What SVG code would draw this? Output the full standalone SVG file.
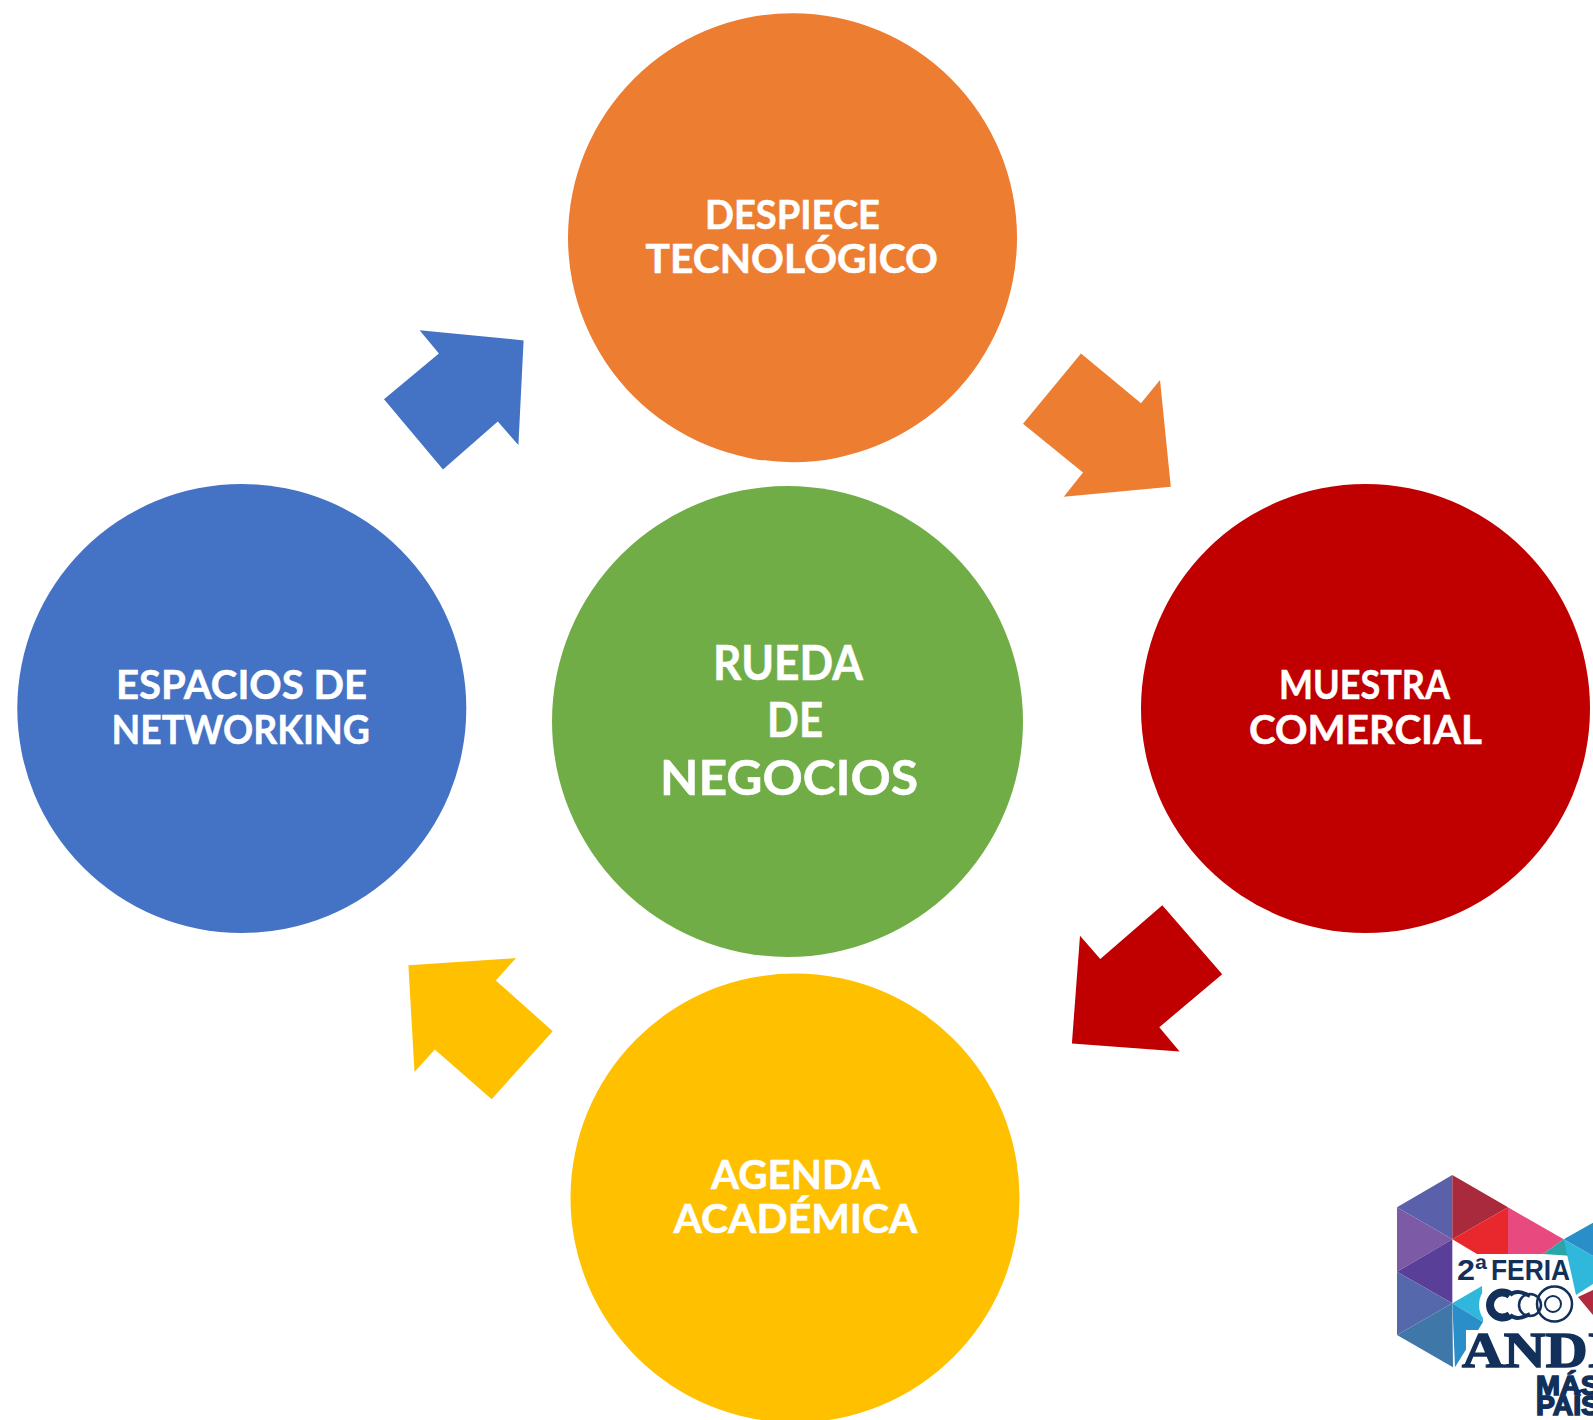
<svg xmlns="http://www.w3.org/2000/svg" width="1593" height="1420" viewBox="0 0 1593 1420">
<style>
.t{font-family:"Lato","Liberation Sans",Arial,sans-serif;font-weight:700;fill:#fff;stroke:#fff;stroke-width:.5px;font-size:40px}
.c{font-size:48px}
.lg{font-family:"Liberation Sans",Arial,sans-serif;font-weight:700;fill:#12305a;stroke:#12305a;stroke-width:.8px}
.h{paint-order:stroke;stroke:#fff;stroke-width:5px;stroke-linejoin:round}
</style>
<rect width="1593" height="1420" fill="#fff"/>
<g id="connectors">
<polygon fill="#ed7d31" points="1081,353.6 1141,403.3 1160,380 1170.8,486.7 1063.8,496.8 1083,472.4 1023,423.7"/>
<polygon fill="#c00000" points="1162.3,905.3 1222.2,974.3 1159.3,1027.2 1179.6,1051.6 1071.9,1043.4 1080,935.7 1100.3,959.1"/>
<polygon fill="#ffc000" points="516.1,958.1 495.8,980.4 552.7,1031.2 491.7,1099.3 434.8,1049.5 414.5,1071.9 408.4,965.2"/>
<polygon fill="#4472c4" points="419.6,330.2 523.6,340.4 518.4,445 497.8,421.6 443,469.4 384,399.3 438.9,353.6"/>
</g>
<g id="node-despiece">
<circle cx="792.5" cy="237.7" r="224.5" fill="#ed7d31"/>
<text class="t" x="705" y="229" textLength="175" lengthAdjust="spacingAndGlyphs">DESPIECE</text>
<text class="t" x="645.5" y="272.5" textLength="292.5" lengthAdjust="spacingAndGlyphs">TECNOLÓGICO</text>
</g>
<g id="node-rueda">
<circle cx="787.5" cy="721.5" r="235.5" fill="#70ad47"/>
<text class="t c" x="713" y="680" textLength="150" lengthAdjust="spacingAndGlyphs">RUEDA</text>
<text class="t c" x="767" y="737" textLength="56" lengthAdjust="spacingAndGlyphs">DE</text>
<text class="t c" x="660" y="795" textLength="258" lengthAdjust="spacingAndGlyphs">NEGOCIOS</text>
</g>
<g id="node-muestra">
<circle cx="1365.5" cy="708.5" r="224.5" fill="#c00000"/>
<text class="t" x="1279" y="698.5" textLength="171" lengthAdjust="spacingAndGlyphs">MUESTRA</text>
<text class="t" x="1249" y="744" textLength="233" lengthAdjust="spacingAndGlyphs">COMERCIAL</text>
</g>
<g id="node-agenda">
<circle cx="795" cy="1198" r="224.5" fill="#ffc000"/>
<text class="t" x="711" y="1189" textLength="169" lengthAdjust="spacingAndGlyphs">AGENDA</text>
<text class="t" x="673.5" y="1233" textLength="244" lengthAdjust="spacingAndGlyphs">ACADÉMICA</text>
</g>
<g id="node-espacios">
<circle cx="241.8" cy="708.5" r="224.5" fill="#4472c4"/>
<text class="t" x="116" y="698.5" textLength="251" lengthAdjust="spacingAndGlyphs">ESPACIOS DE</text>
<text class="t" x="111.5" y="744" textLength="258.5" lengthAdjust="spacingAndGlyphs">NETWORKING</text>
</g>
<g id="logo">
<polygon fill="#5a60aa" points="1452.3,1175 1397,1207.3 1452.3,1239.3"/>
<polygon fill="#7d5aa6" points="1397,1207.3 1452.3,1239.3 1397,1271.7"/>
<polygon fill="#5a3f98" points="1452.3,1239.3 1397,1271.7 1452.3,1303.3"/>
<polygon fill="#5568ac" points="1397,1271.7 1452.3,1303.3 1397,1335"/>
<polygon fill="#3f78a8" points="1452.3,1303.3 1397,1335 1453,1367.3"/>
<polygon fill="#a82a3c" points="1452.3,1175 1508,1207.3 1452.3,1239.3"/>
<polygon fill="#e8282c" points="1452.3,1239.3 1508,1207.3 1508,1254 1477,1254"/>
<polygon fill="#e84a80" points="1508,1207.3 1563.7,1239.3 1543,1254 1508,1254"/>
<polygon fill="#2a8fc8" points="1563.7,1239.3 1593,1222.7 1593,1256"/>
<polygon fill="#2aa5a8" points="1563.7,1239.3 1543,1254 1573,1256"/>
<polygon fill="#2fb8dc" points="1563.7,1239.3 1593,1256 1593,1284 1576,1295"/>
<polygon fill="#b02a40" points="1593,1290 1578,1297 1593,1315"/>
<polygon fill="#2fb8dc" points="1452.3,1303.3 1482,1286 1483,1322"/>
<polygon fill="#2a8fc8" points="1452.3,1303.3 1483,1322 1455,1367.3"/>
<rect x="1466" y="1330" width="127" height="40" fill="#fff"/>
<text class="lg h" x="1457" y="1280" font-size="30" textLength="30" lengthAdjust="spacingAndGlyphs">2ª</text>
<text class="lg h" x="1491" y="1280" font-size="30" textLength="79" lengthAdjust="spacingAndGlyphs">FERIA</text>
<circle cx="1503" cy="1305" r="24" fill="#fff"/>
<circle cx="1530" cy="1305" r="18" fill="#fff"/>
<circle cx="1554.5" cy="1304" r="23" fill="#fff"/>
<path d="M1510 1295A12.5 12.5 0 1 0 1510 1315" fill="none" stroke="#12305a" stroke-width="8"/>
<path d="M1510 1295C1516 1290 1522 1292 1530 1296M1510 1315C1516 1320 1522 1318 1530 1314" fill="none" stroke="#12305a" stroke-width="4"/>
<circle cx="1530" cy="1305" r="11" fill="none" stroke="#12305a" stroke-width="2.5"/>
<circle cx="1554.5" cy="1304" r="17.5" fill="none" stroke="#12305a" stroke-width="2.5"/>
<circle cx="1553" cy="1304" r="8" fill="none" stroke="#12305a" stroke-width="2"/>
<text x="1462" y="1367" font-family="'Liberation Serif',serif" font-weight="700" font-size="50" fill="#12305a" stroke="#12305a" stroke-width="1.5" textLength="148" lengthAdjust="spacingAndGlyphs">ANDI</text>
<text class="lg" x="1536" y="1395" font-size="28" style="stroke-width:1.6px" textLength="64" lengthAdjust="spacingAndGlyphs">MÁS</text>
<text class="lg" x="1536" y="1415" font-size="28" style="stroke-width:1.6px" textLength="64" lengthAdjust="spacingAndGlyphs">PAÍS</text>
</g>
</svg>
